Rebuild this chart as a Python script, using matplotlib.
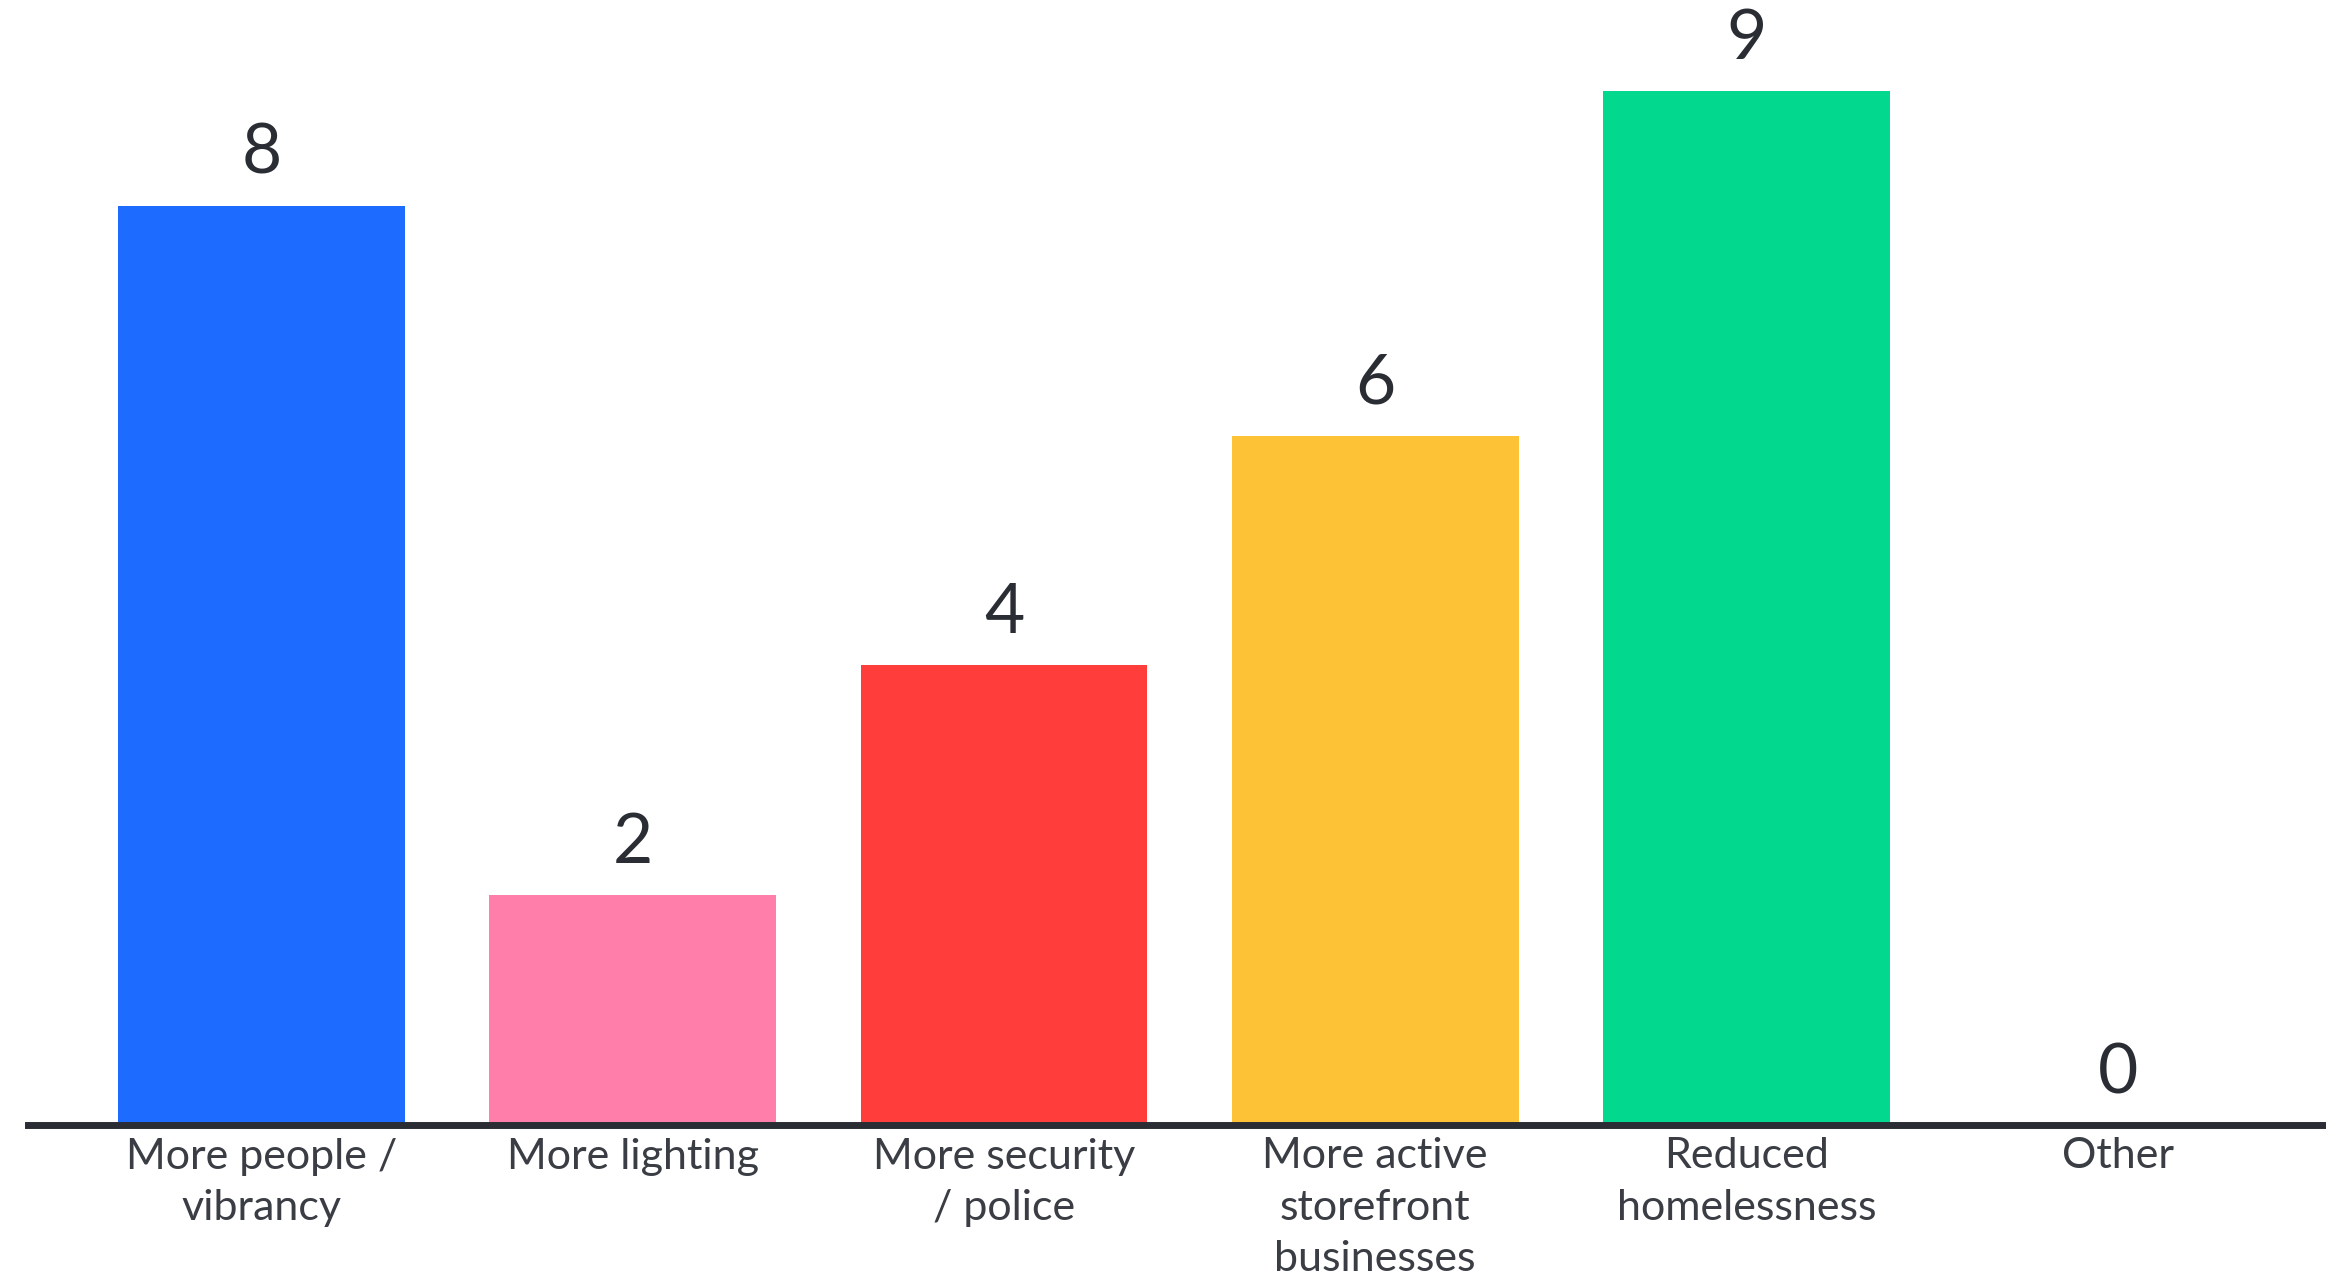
import matplotlib.pyplot as plt

# survey answers: what would make the area feel safer
categories = ['More people /\nvibrancy', 'More lighting', 'More security\n/ police',
              'More active\nstorefront\nbusinesses', 'Reduced\nhomelessness', 'Other']
counts = [8, 2, 4, 6, 9, 0]
colors = ['#1D6BFF', '#FF7EAA', '#FF3E3C', '#FDC236', '#02D98E', '#FFFFFF']

text_col = '#2A2D33'
plt.rcParams['font.family'] = ['Lato', 'DejaVu Sans']

fig = plt.figure(figsize=(23.26, 12.82), dpi=100)
ax = fig.add_axes([28 / 2326, 157 / 1282, 1 - 28 / 2326, 1 - 157 / 1282])

x = list(range(len(categories)))
ax.bar(x, counts, width=0.773, color=colors, zorder=2)

for xi, v in zip(x, counts):
    ax.annotate(str(v), (xi, v), xytext=(0, 37), textcoords='offset points',
                ha='center', va='center', fontsize=50, color=text_col)

ax.set_xlim(-0.629, 5.561)
ax.set_ylim(0, 9.79)

for s in ['top', 'right', 'left']:
    ax.spines[s].set_visible(False)
ax.spines['bottom'].set_linewidth(5)
ax.spines['bottom'].set_color(text_col)
ax.spines['bottom'].set_zorder(3)

ax.set_yticks([])
ax.set_xticks(x)
ax.set_xticklabels(categories, fontsize=31, color='#3A3D44', linespacing=1.42)
ax.tick_params(axis='x', length=0, pad=9)

fig.savefig('out.png', dpi=100, facecolor='white')
